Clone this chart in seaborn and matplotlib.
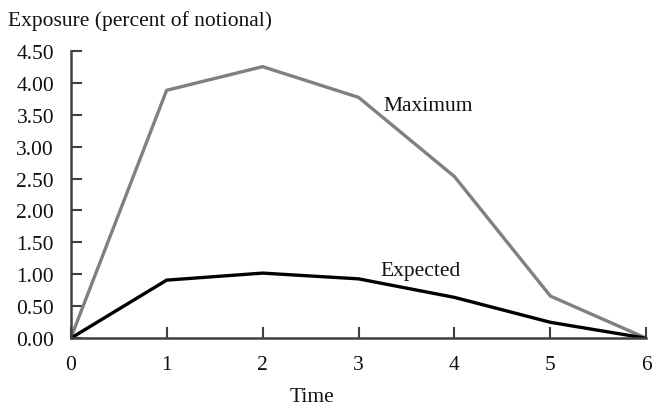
import matplotlib
matplotlib.use("Agg")
import matplotlib.pyplot as plt
import seaborn as sns
import pandas as pd

time = [0, 1, 2, 3, 4, 5, 6]
maximum = [0.0, 3.88, 4.25, 3.77, 2.53, 0.66, 0.0]
expected = [0.0, 0.91, 1.02, 0.93, 0.64, 0.25, 0.0]
yticks = [0.0, 0.5, 1.0, 1.5, 2.0, 2.5, 3.0, 3.5, 4.0, 4.5]

sns.set_theme(style="white")
plt.rcParams['font.family'] = ['Liberation Serif', 'DejaVu Serif']

df = pd.DataFrame({"Time": time + time,
                   "Exposure": maximum + expected,
                   "Series": ["Maximum"] * len(time) + ["Expected"] * len(time)})

fig = plt.figure(figsize=(6.52, 4.06), dpi=100)
ax = fig.add_axes([0.1084, 0.1643, 0.8830, 0.7084])
sns.lineplot(data=df, x="Time", y="Exposure", hue="Series",
             palette={"Maximum": "#808080", "Expected": "#000000"},
             linewidth=2.4, legend=False, ax=ax)

ax.set_xlim(0, 6)
ax.set_ylim(0, 4.5)
ax.set_xticks(time)
ax.set_xticklabels([str(t) for t in time])
ax.set_yticks(yticks)
ax.set_yticklabels([f"{v:.2f}" for v in yticks])
for s in ["top", "right"]:
    ax.spines[s].set_visible(False)
for s in ["left", "bottom"]:
    ax.spines[s].set_color("#404040")
    ax.spines[s].set_linewidth(1.8)
ax.tick_params(axis="both", direction="in", length=8, width=1.5,
               color="#404040", labelsize=15.5, labelcolor="#111111",
               bottom=True, left=True)
ax.tick_params(axis="y", pad=12)
ax.tick_params(axis="x", pad=12)
ax.set_xlabel("")
ax.set_ylabel("")

ax.text(3.26, 3.64, "Maximum", fontsize=15.5, ha="left", va="center", color="#111111")
ax.text(3.23, 1.06, "Expected", fontsize=15.5, ha="left", va="center", color="#111111")
fig.text(8 / 652, 1 - 21 / 406, "Exposure (percent of notional)", fontsize=15.5,
         ha="left", va="center", color="#111111")
fig.text(312 / 652, 1 - 398 / 406, "Time", fontsize=15.5, ha="center", va="center",
         color="#111111")

fig.savefig("out.png", dpi=100)
